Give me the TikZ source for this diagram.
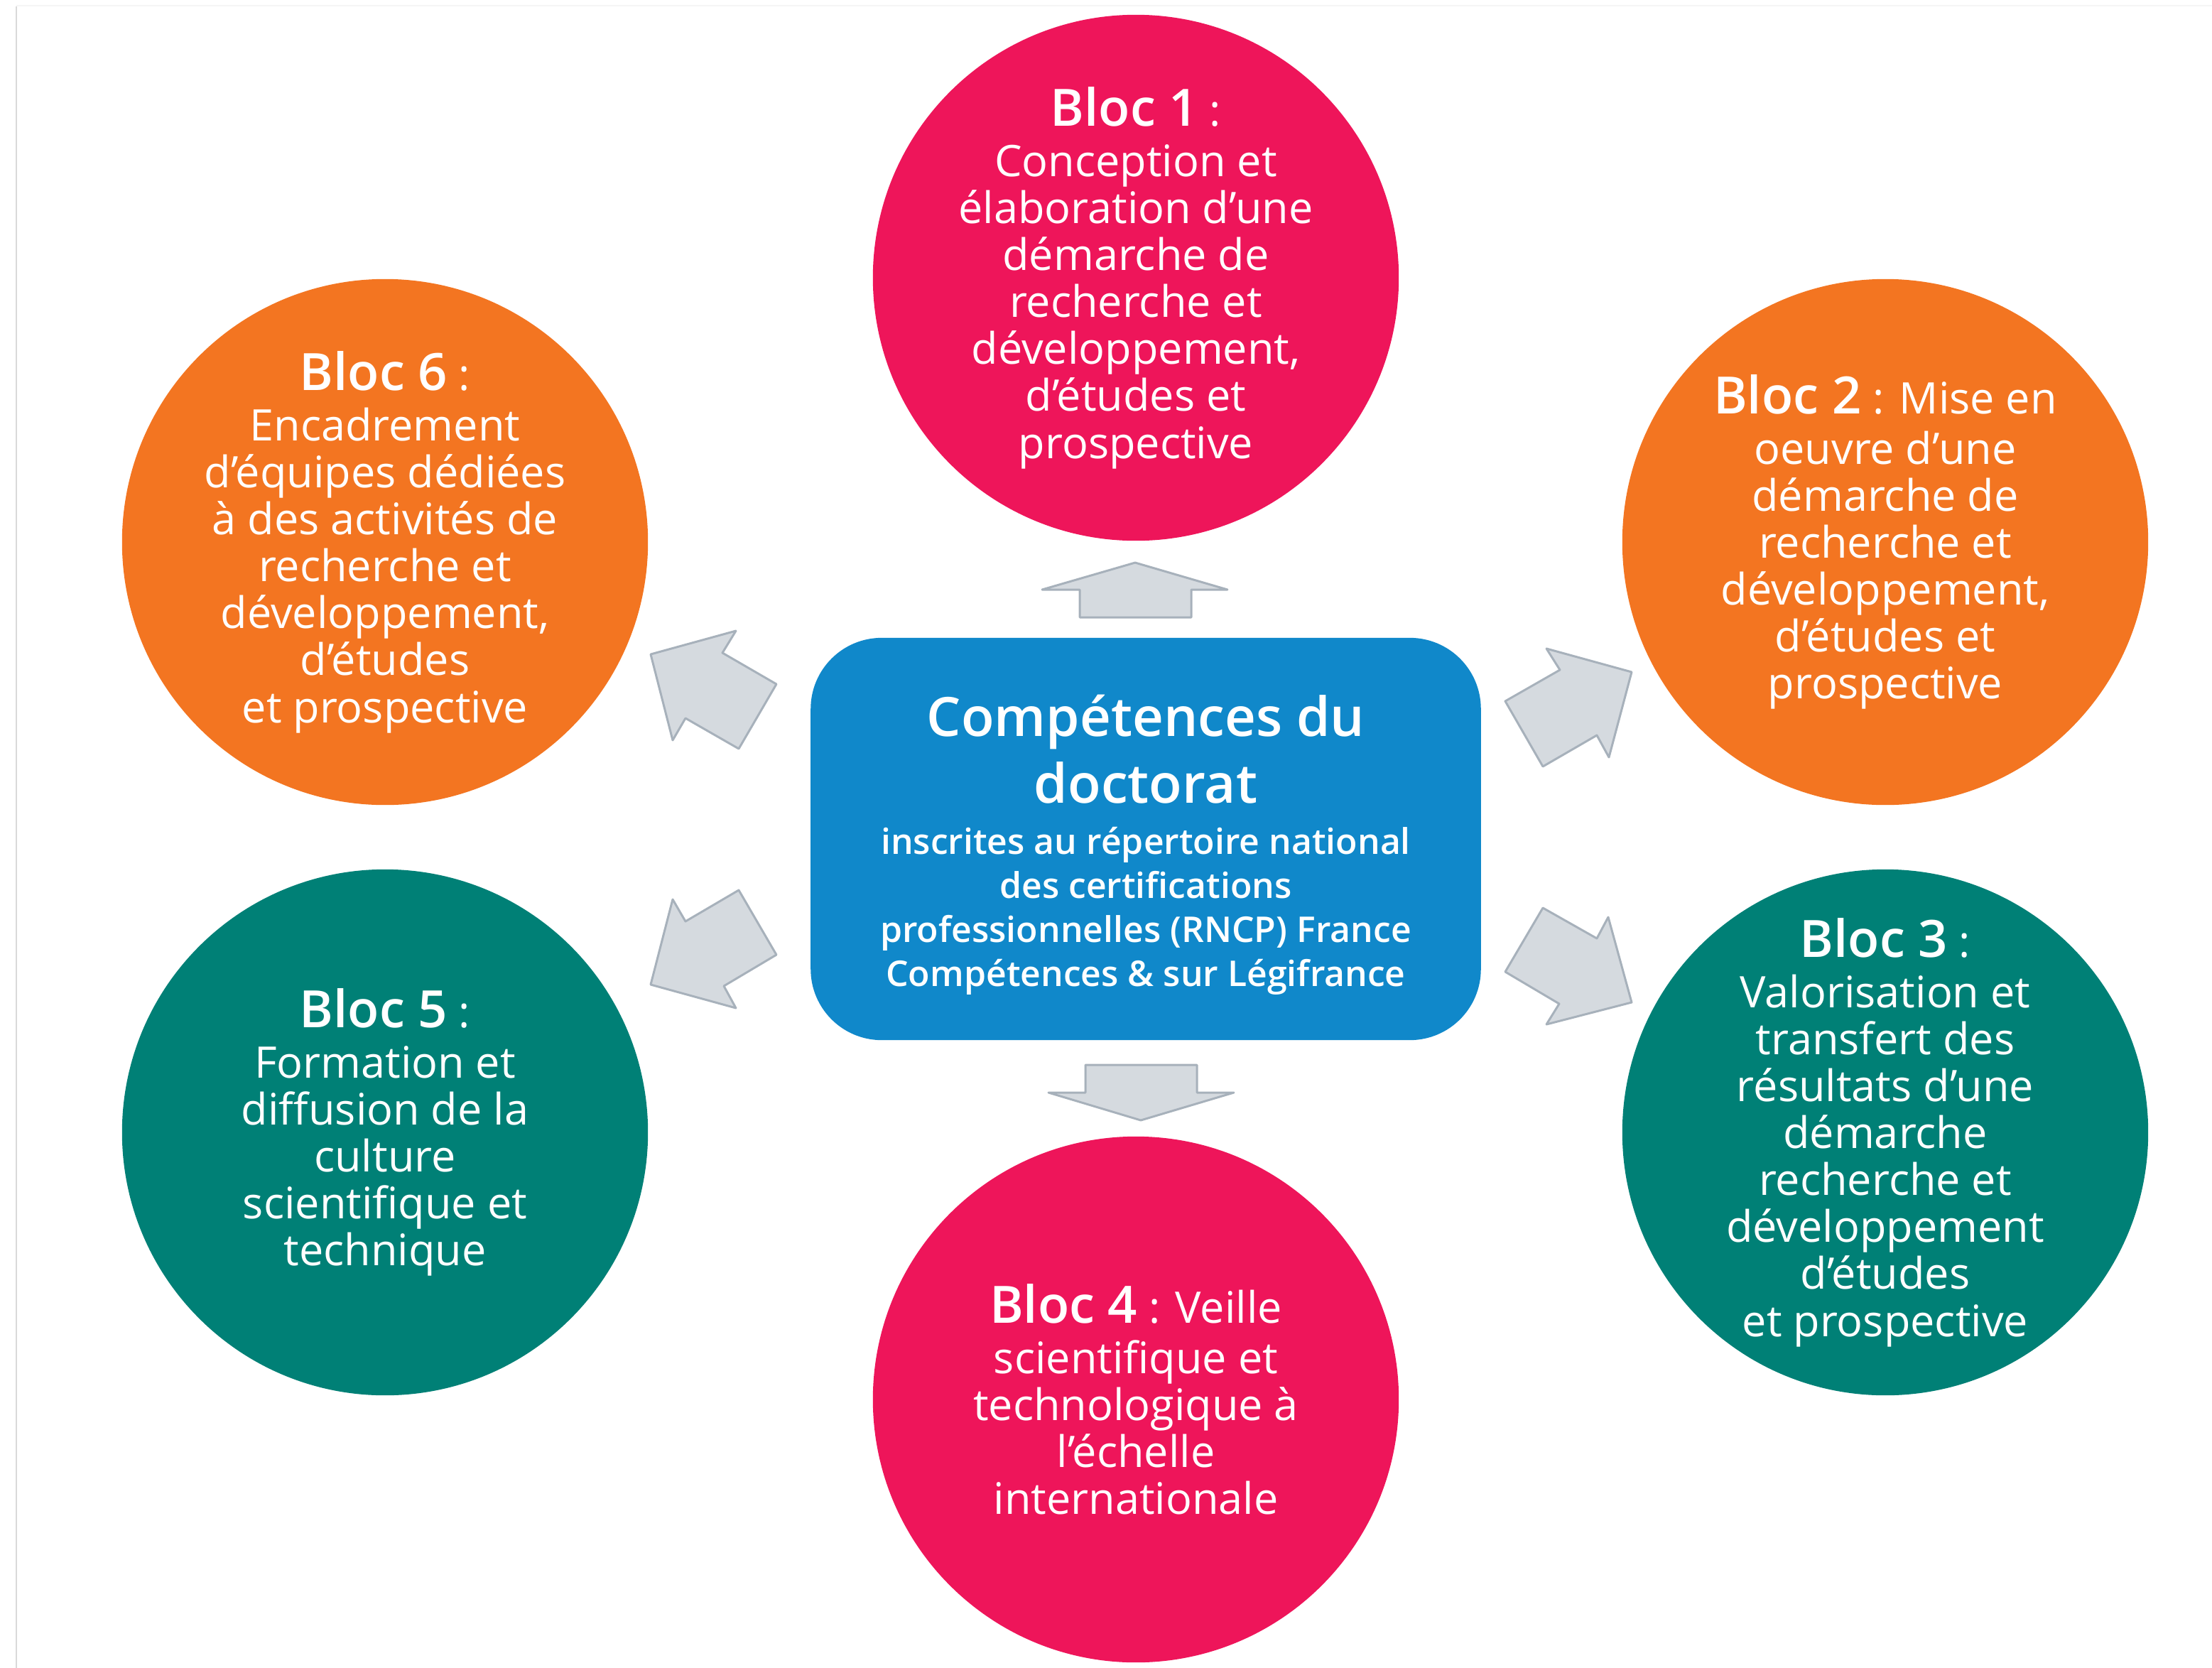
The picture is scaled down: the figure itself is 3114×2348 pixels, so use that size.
\documentclass[tikz,border=0pt]{standalone}
\usepackage{fontspec}
\newcommand{\blocsize}{20.6}
\newcommand{\titlesize}{21.7}
\newcommand{\subsize}{14.2}
\IfFontExistsTF{Open Sans SemiBold}
  {\setmainfont{Open Sans}[BoldFont={Open Sans SemiBold}]}
  {\IfFontExistsTF{Open Sans Semibold}
    {\setmainfont{Open Sans}[BoldFont={Open Sans Semibold}]}
    {\setmainfont{Open Sans}
     \renewcommand{\blocsize}{19.9}
     \renewcommand{\titlesize}{20.9}
     \renewcommand{\subsize}{13.4}}}
\usepackage{xcolor}

\definecolor{blocpink}{RGB}{238,21,90}
\definecolor{blocorange}{RGB}{243,117,33}
\definecolor{blocteal}{RGB}{0,128,118}
\definecolor{centreblue}{RGB}{16,136,202}
\definecolor{arrowfill}{RGB}{213,218,223}
\definecolor{arrowline}{RGB}{167,177,187}

\newcommand{\bloclabel}{\fontsize{\blocsize}{\blocsize}\selectfont\bfseries}
\newcommand{\titlefont}{\fontsize{\titlesize}{26.5}\selectfont\bfseries}

\tikzset{
  bloc/.style={circle, minimum size=7.4cm, inner sep=0pt},
  bloctext/.style={align=center, text=white, inner sep=0pt,
    font=\fontsize{17.4}{18.8}\selectfont},
  centrebox/.style={rectangle, rounded corners=1cm, fill=centreblue,
    minimum width=9.43cm, minimum height=5.66cm},
  centretext/.style={align=center, text=white, inner sep=0pt, yshift=-0.08cm,
    font=\fontsize{\subsize}{17.6}\selectfont\bfseries},
  blockarrow/.style={fill=arrowfill, draw=arrowline, line width=0.85pt,
    line join=round}
}

\begin{document}
\begin{tikzpicture}[x=0.01cm, y=-0.01cm]
      \useasboundingbox (0,0) rectangle (3114,2348);
      \draw[gray!30, line width=0.6pt] (23,2348) -- (23,9);
      \draw[gray!8, line width=0.6pt] (23,8) -- (3114,8);

      \node[centrebox, label={[centretext]center:{%
        \titlefont Compétences du\\[4pt] \titlefont doctorat\\[3pt]
        inscrites au répertoire national\\ des certifications\\
        professionnelles (RNCP) France\\ Compétences \& sur Légifrance}}]
        (centre) at (1613,1181) {};

      \node[bloc, fill=blocpink, label={[bloctext]center:{%
        {\bloclabel Bloc 1} :\\[1.4pt] Conception et\\ élaboration d’une\\
        démarche de\\ recherche et\\ développement,\\ d’études et\\
        prospective}}] (bloc1) at (1599,391) {};
      \node[bloc, fill=blocorange, label={[bloctext]center:{%
        {\bloclabel Bloc 2} : Mise en\\[1.4pt] oeuvre d’une\\ démarche de\\
        recherche et\\ développement,\\ d’études et\\ prospective}}]
        (bloc2) at (2654,763) {};
      \node[bloc, fill=blocteal, label={[bloctext]center:{%
        {\bloclabel Bloc 3} :\\[1.4pt] Valorisation et\\ transfert des\\
        résultats d’une\\ démarche\\ recherche et\\ développement\\
        d’études\\ et prospective}}] (bloc3) at (2654,1594) {};
      \node[bloc, fill=blocpink, label={[bloctext]center:{%
        {\bloclabel Bloc 4} : Veille\\[1.4pt] scientifique et\\
        technologique à\\ l’échelle\\ internationale}}]
        (bloc4) at (1599,1970) {};
      \node[bloc, fill=blocteal, label={[bloctext]center:{%
        {\bloclabel Bloc 5} :\\[1.4pt] Formation et\\ diffusion de la\\
        culture\\ scientifique et\\ technique}}] (bloc5) at (542,1594) {};
      \node[bloc, fill=blocorange, label={[bloctext]center:{%
        {\bloclabel Bloc 6} :\\[1.4pt] Encadrement\\ d’équipes dédiées\\
        à des activités de\\ recherche et\\ développement,\\ d’études\\
        et prospective}}] (bloc6) at (542,763) {};

      % block arrows around the centre box
      \draw[blockarrow] (1520,869) -- (1520,830) -- (1467,830) -- (1598,792)
        -- (1728,830) -- (1677,830) -- (1677,869) -- cycle;
      \draw[blockarrow] (1528,1499) -- (1685,1499) -- (1685,1538) -- (1737,1538)
        -- (1606,1577) -- (1476,1538) -- (1528,1538) -- cycle;
      \draw[blockarrow] (1093,963) -- (1017,919) -- (1036,888) -- (916,921)
        -- (947,1042) -- (965,1011) -- (1040,1054) -- cycle;
      \draw[blockarrow] (2119,987) -- (2196,943) -- (2177,913) -- (2297,946)
        -- (2265,1066) -- (2248,1035) -- (2172,1079) -- cycle;
      \draw[blockarrow] (1040,1253) -- (965,1297) -- (947,1266) -- (916,1386)
        -- (1036,1419) -- (1019,1388) -- (1093,1344) -- cycle;
      \draw[blockarrow] (2172,1278) -- (2248,1321) -- (2264,1291) -- (2297,1411)
        -- (2177,1442) -- (2195,1413) -- (2119,1368) -- cycle;
\end{tikzpicture}
\end{document}
